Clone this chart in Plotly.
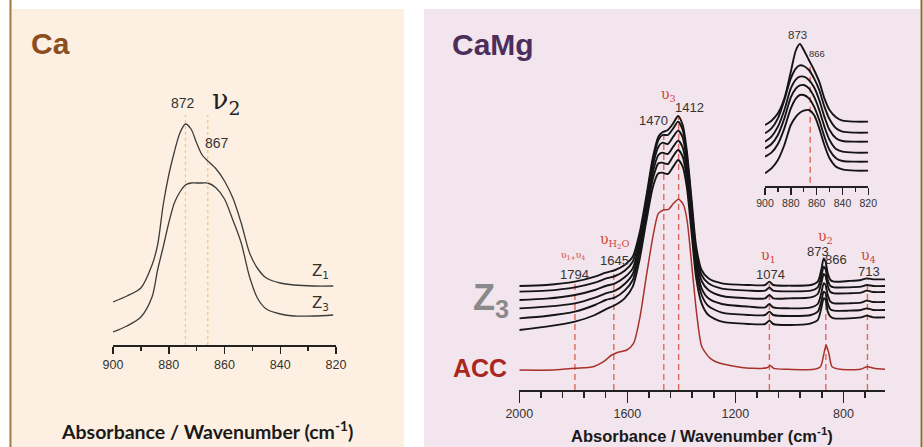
import plotly.graph_objects as go

W, H = 923, 447

# ---------------- Left panel (Ca) data ----------------
ca_wn = [900, 895, 890, 886, 884, 882, 880, 878, 876, 874, 872, 870, 868, 866, 863, 860, 857,
         854, 851, 848, 845, 840, 835, 828, 821]
ca_z1 = [43, 49, 57, 80, 100, 140, 170, 193, 212, 221, 216, 202, 190, 184, 176, 164, 147,
         122, 92, 76, 67, 62, 60, 59, 59]
ca_z3 = [13, 19, 28, 48, 75, 98, 122, 142, 153, 160, 162, 162, 162, 162, 157, 146, 125,
         102, 68, 46, 36, 31, 29, 29, 30]
ca_peak_lines = [874, 866]
ca_peak_top = [230, 230]
ca_ticks = [900, 880, 860, 840, 820]

# ---------------- Right panel (CaMg) data ----------------
mg_wn = [2000, 1900, 1794, 1720, 1680, 1645, 1610, 1580, 1555, 1530, 1505, 1485, 1470, 1450,
         1430, 1412, 1395, 1380, 1362, 1345, 1325, 1300, 1250, 1150, 1090, 1074, 1060, 1000,
         920, 895, 882, 873, 866, 858, 848, 835, 780, 735, 713, 690, 645]
z_curve1 = [312, 315, 325, 340, 352, 360, 375, 400, 470, 580, 700, 760, 773, 780, 800, 822, 795,
            720, 570, 430, 360, 335, 320, 315, 315, 325, 315, 313, 315, 325, 360, 395, 385, 350,
            330, 325, 327, 330, 335, 332, 332]
z_curve2 = [295, 298, 308, 322, 334, 342, 358, 385, 455, 570, 690, 750, 765, 765, 785, 805, 780,
            705, 555, 415, 345, 320, 304, 298, 298, 308, 298, 296, 298, 308, 340, 370, 362, 330,
            312, 308, 308, 310, 315, 312, 312]
z_curve3 = [270, 274, 285, 300, 312, 320, 338, 365, 440, 555, 675, 730, 742, 738, 760, 778, 758,
            685, 535, 400, 327, 300, 282, 275, 275, 285, 275, 275, 278, 288, 320, 348, 342, 312,
            294, 290, 290, 292, 298, 294, 294]
z_curve4 = [245, 250, 260, 277, 290, 298, 318, 348, 425, 540, 655, 705, 712, 708, 730, 748, 728,
            660, 515, 380, 305, 275, 258, 250, 248, 258, 248, 245, 248, 258, 290, 320, 315, 285,
            265, 260, 260, 262, 268, 264, 264]
z_curve5 = [215, 222, 235, 255, 270, 278, 298, 330, 410, 525, 635, 680, 682, 678, 702, 720, 700,
            635, 495, 360, 285, 252, 232, 225, 225, 235, 225, 222, 225, 235, 265, 295, 290, 260,
            242, 238, 238, 240, 245, 240, 240]
z_curve6 = [180, 190, 205, 225, 242, 255, 275, 310, 390, 505, 610, 650, 652, 648, 670, 690, 670,
            610, 470, 335, 260, 225, 205, 198, 198, 208, 198, 195, 200, 210, 245, 275, 270, 235,
            220, 215, 215, 218, 223, 218, 218]
z_curves = [z_curve1, z_curve2, z_curve3, z_curve4, z_curve5, z_curve6]

acc_wn = [2000, 1874, 1794, 1726, 1688, 1658, 1639, 1602, 1577, 1553, 1528, 1503, 1485, 1466,
          1447, 1429, 1410, 1392, 1379, 1361, 1342, 1324, 1293, 1256, 1194, 1132, 1083, 1070,
          1058, 1009, 910, 885, 872, 864, 854, 842, 811, 737, 712, 687, 644]
acc_abs = [60, 60, 65, 70, 85, 105, 112, 120, 140, 220, 350, 470, 530, 540, 542, 560, 572, 555,
           510, 370, 220, 130, 95, 80, 70, 65, 67, 73, 65, 62, 62, 70, 110, 135, 110, 70, 62, 62,
           70, 65, 62]

band_wn = [1794, 1650, 1465, 1410, 1074, 865, 711]
band_top = [325, 360, 770, 820, 325, 385, 335]
mg_ticks = [2000, 1600, 1200, 800]

# ---------------- Inset data ----------------
in_wn = [900, 895, 890, 885, 880, 876, 873, 870, 866, 862, 858, 854, 850, 845, 840, 830, 820]
in_curve1 = [183, 196, 218, 263, 343, 408, 426, 408, 378, 348, 313, 263, 228, 206, 196, 193, 193]
in_curve2 = [158, 173, 203, 258, 323, 353, 362, 360, 348, 323, 288, 238, 200, 173, 163, 160, 160]
in_curve3 = [133, 148, 178, 228, 293, 320, 328, 328, 318, 296, 258, 208, 168, 143, 135, 133, 133]
in_curve4 = [113, 126, 153, 203, 266, 293, 302, 303, 293, 268, 228, 178, 138, 111, 103, 100, 100]
in_curve5 = [88, 100, 126, 173, 233, 263, 273, 273, 263, 238, 198, 148, 108, 83, 75, 73, 73]
in_curve6 = [38, 53, 78, 123, 183, 208, 220, 226, 228, 213, 173, 123, 83, 58, 50, 46, 46]
in_curves = [in_curve1, in_curve2, in_curve3, in_curve4, in_curve5, in_curve6]
in_band = [865]
in_band_top = [363]
in_ticks = [900, 880, 860, 840, 820]


def px(x):
    return x / W


def py(y):
    return 1 - y / H


fig = go.Figure()

# Left panel curves
for ys in (ca_z1, ca_z3):
    fig.add_trace(go.Scatter(x=ca_wn, y=ys, mode="lines", xaxis="x", yaxis="y",
                             line=dict(color="#3c3c3c", width=1.3, shape="spline", smoothing=0.8),
                             showlegend=False, hoverinfo="skip"))
for xv, top in zip(ca_peak_lines, ca_peak_top):
    fig.add_trace(go.Scatter(x=[xv, xv], y=[0, top], mode="lines", xaxis="x", yaxis="y",
                             line=dict(color="#f7c27c", width=1.2, dash="dot"),
                             showlegend=False, hoverinfo="skip"))

# Right main curves
for xv, top in zip(band_wn, band_top):
    fig.add_trace(go.Scatter(x=[xv, xv], y=[0, top], mode="lines", xaxis="x2", yaxis="y2",
                             line=dict(color="#e0685a", width=1.4, dash="6px,4px"),
                             showlegend=False, hoverinfo="skip"))
for ys in z_curves:
    fig.add_trace(go.Scatter(x=mg_wn, y=ys, mode="lines", xaxis="x2", yaxis="y2",
                             line=dict(color="#151515", width=1.9, shape="spline", smoothing=0.7),
                             showlegend=False, hoverinfo="skip"))
fig.add_trace(go.Scatter(x=acc_wn, y=acc_abs, mode="lines", xaxis="x2", yaxis="y2",
                         line=dict(color="#a8322a", width=1.5, shape="spline", smoothing=0.7),
                         showlegend=False, hoverinfo="skip"))

# Inset
for xv, top in zip(in_band, in_band_top):
    fig.add_trace(go.Scatter(x=[xv, xv], y=[10, top], mode="lines", xaxis="x3", yaxis="y3",
                             line=dict(color="#e0685a", width=1.4, dash="6px,4px"),
                             showlegend=False, hoverinfo="skip"))
for ys in in_curves:
    fig.add_trace(go.Scatter(x=in_wn, y=ys, mode="lines", xaxis="x3", yaxis="y3",
                             line=dict(color="#151515", width=1.9, shape="spline", smoothing=0.8),
                             showlegend=False, hoverinfo="skip"))

tickfont = dict(family="Liberation Sans, Arial", size=12.5, color="#333333")
common_x = dict(showgrid=False, zeroline=False, showline=True, linecolor="#222222", linewidth=1.5,
                ticks="outside", tickcolor="#222222", tickwidth=1.5, tickfont=tickfont,
                tickmode="array", fixedrange=True, automargin=False)
hidden_y = dict(visible=False, fixedrange=True, automargin=False)

fig.update_layout(
    width=W, height=H, margin=dict(l=0, r=0, t=0, b=0, pad=0, autoexpand=False),
    paper_bgcolor="white", plot_bgcolor="rgba(0,0,0,0)", showlegend=False,
    xaxis=dict(common_x, domain=[px(113), px(336)], range=[900, 820], tickvals=ca_ticks,
               ticktext=[str(t) for t in ca_ticks], ticklen=7, anchor="y",
               minor=dict(dtick=10, tick0=900, ticklen=4, ticks="outside", tickcolor="#222222", tickwidth=1.5)),
    yaxis=dict(hidden_y, domain=[py(345), py(95)], range=[0, 250], anchor="x"),
    xaxis2=dict(common_x, domain=[px(519.3), px(885)], range=[2000, 646], tickvals=mg_ticks,
                ticktext=[str(t) for t in mg_ticks], ticklen=11, anchor="y2",
                tickfont=dict(family="Liberation Sans, Arial", size=12.5, color="#333333"),
                minor=dict(dtick=80, tick0=2000, ticklen=6, ticks="outside", tickcolor="#222222", tickwidth=1.5)),
    yaxis2=dict(hidden_y, domain=[py(390), py(90)], range=[0, 900], anchor="x2"),
    xaxis3=dict(common_x, domain=[px(765), px(868.3)], range=[900, 820], tickvals=in_ticks,
                ticktext=[str(t) for t in in_ticks], ticklen=7, anchor="y3",
                tickfont=dict(family="Liberation Sans, Arial", size=10.5, color="#333333"),
                minor=dict(dtick=10, tick0=900, ticklen=4, ticks="outside", tickcolor="#222222", tickwidth=1.5)),
    yaxis3=dict(hidden_y, domain=[py(186), py(30)], range=[0, 468], anchor="x3"),
)

shapes = [
    dict(type="rect", xref="paper", yref="paper", x0=px(12), x1=px(404), y0=0, y1=py(9),
         fillcolor="#fdf0e2", line=dict(width=0), layer="below"),
    dict(type="rect", xref="paper", yref="paper", x0=px(424), x1=px(920), y0=0, y1=py(9),
         fillcolor="#f3e5ed", line=dict(width=0), layer="below"),
    dict(type="line", xref="paper", yref="paper", x0=px(10.5), x1=px(10.5), y0=0, y1=1,
         line=dict(color="#9b7a42", width=2), layer="below"),
    dict(type="line", xref="paper", yref="paper", x0=px(921.5), x1=px(921.5), y0=0, y1=1,
         line=dict(color="#8f6d2c", width=2), layer="below"),
]
fig.update_layout(shapes=shapes)

ann = []


def A(text, x, y, size, color="#333333", family="Liberation Sans, Arial", xref="paper", yref="paper",
      xanchor="center", yanchor="middle"):
    if xref == "paper":
        x = px(x)
    if yref == "paper":
        y = py(y)
    ann.append(dict(text=text, x=x, y=y, xref=xref, yref=yref, showarrow=False,
                    font=dict(size=size, color=color, family=family), xanchor=xanchor, yanchor=yanchor))


# Titles
A("<b>Ca</b>", 29, 43, 30, color="#8b4e20", family="Liberation Sans, Arial", xanchor="left")
A("<b>CaMg</b>", 450, 45, 30, color="#4b2e5c", family="Liberation Sans, Arial", xanchor="left")
A("<b>Absorbance / Wavenumber (cm<sup>-1</sup>)</b>", 207, 430, 19.5, color="#1a1a1a",
  family="Lato, Open Sans, sans-serif")
A("<b>Absorbance / Wavenumber (cm<sup>-1</sup>)</b>", 702, 435, 16.5, color="#1a1a1a")

# Left labels
A("872", 874.9, 242, 14, xref="x", yref="y")
A("ν<sub>2</sub>", 859.5, 244, 27, color="#222222", family="DejaVu Serif, serif", xref="x", yref="y")
A("867", 862.7, 202, 14, xref="x", yref="y")
A("Z<sub>1</sub>", 825.5, 74, 15, color="#333333", family="DejaVu Sans, sans-serif", xref="x", yref="y")
A("Z<sub>3</sub>", 825.5, 42, 15, color="#333333", family="DejaVu Sans, sans-serif", xref="x", yref="y")

# Right labels
A("<b>Z<sub>3</sub></b>", 491, 300, 36, color="#8a8a8a")
A("<b>ACC</b>", 480, 368, 25, color="#a8281f")
red = "#d0483a"
for t, x, y in [("1794", 1796, 348), ("1645", 1648, 390), ("1470", 1504, 807), ("1412", 1370, 848),
                ("1074", 1071, 347), ("873", 895, 415), ("866", 826, 393), ("713", 704, 355)]:
    A(t, x, y, 13, xref="x2", yref="y2")
A("υ<sub>1+</sub>υ<sub>4</sub>", 1802, 402, 9, color=red, family="DejaVu Serif, serif", xref="x2", yref="y2")
A("υ<sub>H<sub>2</sub>O</sub>", 1648, 447, 14, color=red, family="DejaVu Serif, serif", xref="x2", yref="y2")
A("υ<sub>3</sub>", 1448, 885, 14, color=red, family="DejaVu Serif, serif", xref="x2", yref="y2")
A("υ<sub>1</sub>", 1078, 402, 14, color=red, family="DejaVu Serif, serif", xref="x2", yref="y2")
A("υ<sub>2</sub>", 868, 460, 14, color=red, family="DejaVu Serif, serif", xref="x2", yref="y2")
A("υ<sub>4</sub>", 707, 402, 14, color=red, family="DejaVu Serif, serif", xref="x2", yref="y2")

# Inset labels
A("873", 875, 453, 11.5, xref="x3", yref="y3")
A("866", 859.5, 398, 9.5, xref="x3", yref="y3")

fig.update_layout(annotations=ann)
fig.write_html("out.html", config={"displayModeBar": False, "staticPlot": True},
               post_script="document.body.style.margin='0';document.body.style.overflow='hidden';")
